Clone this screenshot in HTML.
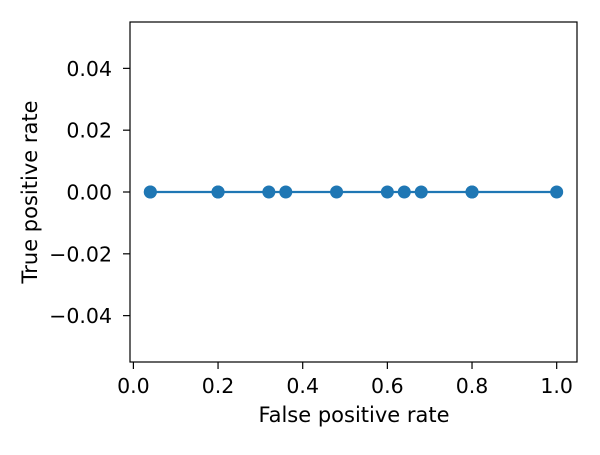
<!DOCTYPE html>
<html><head><meta charset="utf-8"><style>
body{margin:0;background:#fff;}
svg text{font-family:"DejaVu Sans","Liberation Sans",sans-serif;font-size:20.5px;fill:#000;}
svg text.title{font-size:21px;}
</style></head><body>
<svg id="chart" width="600" height="450" viewBox="0 0 600 450">
<rect x="0" y="0" width="600" height="450" fill="#fff"/>
<g id="ticks"></g>
<g id="series"></g>
<rect x="130" y="22" width="447" height="340" fill="none" stroke="#000" stroke-width="1.2"/>
<text class="title" x="354" y="422" text-anchor="middle">False positive rate</text>
<text class="title" transform="translate(37,192) rotate(-90)" text-anchor="middle">True positive rate</text>
</svg>
<script>
const fprValues=[0.04,0.04,0.2,0.2,0.32,0.36,0.48,0.6,0.64,0.68,0.8,0.8,1.0];
const tprValues=[0,0,0,0,0,0,0,0,0,0,0,0,0];
const xTicks=[0.0,0.2,0.4,0.6,0.8,1.0];
const xTickLabels=["0.0","0.2","0.4","0.6","0.8","1.0"];
const yTicks=[-0.04,-0.02,0,0.02,0.04];
const yTickLabels=["\u22120.04","\u22120.02","0.00","0.02","0.04"];
const L=130,R=577,T=22,B=362;
const xMin=-0.008,xMax=1.048,yMin=-0.055,yMax=0.055;
const xs=v=>L+(v-xMin)/(xMax-xMin)*(R-L);
const ys=v=>B-(v-yMin)/(yMax-yMin)*(B-T);
const NS="http://www.w3.org/2000/svg";
const tg=document.getElementById('ticks'),sg=document.getElementById('series');
function mk(tag,attrs,parent){const e=document.createElementNS(NS,tag);for(const k in attrs)e.setAttribute(k,attrs[k]);parent.appendChild(e);return e;}
xTicks.forEach((v,i)=>{
 const l=mk('line',{x1:xs(v),x2:xs(v),y1:B,y2:B+7,stroke:'#000','stroke-width':1.2},tg);
 
 
 const t=mk('text',{x:xs(v),y:B+31,'text-anchor':'middle'},tg);t.textContent=xTickLabels[i];
 
 
});
yTicks.forEach((v,i)=>{
 const l=mk('line',{x1:L-7,x2:L,y1:ys(v),y2:ys(v),stroke:'#000','stroke-width':1.2},tg);
 
 
 const t=mk('text',{x:L-18,y:ys(v)+7.5,'text-anchor':'end'},tg);t.textContent=yTickLabels[i];
 
 
});
const pts=fprValues.map((v,i)=>xs(v)+','+ys(tprValues[i])).join(' ');
const pl=mk('polyline',{points:pts,fill:'none',stroke:'#1f77b4','stroke-width':2.2},sg);


fprValues.forEach((v,i)=>{
 const c=mk('circle',{cx:xs(v),cy:ys(tprValues[i]),r:6.5,fill:'#1f77b4'},sg);
 
 
});
</script>
</body></html>
